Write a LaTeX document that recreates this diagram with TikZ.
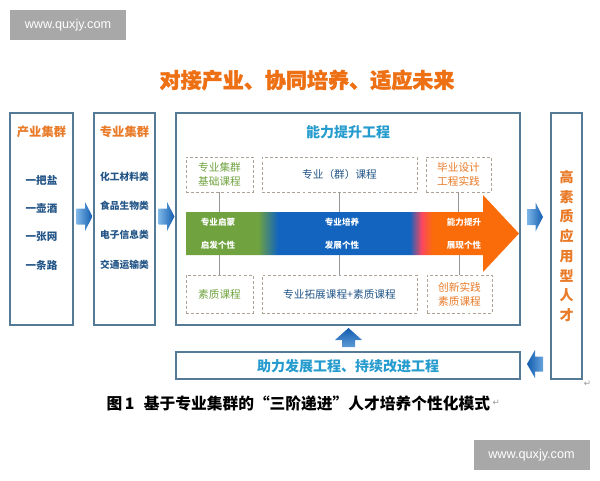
\documentclass[tikz,border=0pt]{standalone}
\usepackage{fontspec}
\setmainfont{Noto Sans CJK SC}
\newfontfamily\titlefont[BoldFeatures={FakeBold=1.6}]{Noto Sans CJK SC}
\newfontfamily\wmfont{Liberation Sans}
\newfontfamily\symfont{DejaVu Sans}
\usetikzlibrary{fit}

\definecolor{boxblue}{RGB}{84,122,150}
\definecolor{titleorange}{RGB}{238,112,20}
\definecolor{headorange}{RGB}{232,122,40}
\definecolor{navy}{RGB}{35,85,135}
\definecolor{cyanblue}{RGB}{38,155,205}
\definecolor{leafgreen}{RGB}{112,163,63}
\definecolor{bandblue}{RGB}{18,100,190}
\definecolor{bandorange}{RGB}{250,108,10}
\definecolor{arrdark}{RGB}{18,92,175}
\definecolor{arrlight}{RGB}{125,182,232}
\definecolor{dashgray}{RGB}{172,162,150}
\definecolor{linkgray}{RGB}{150,150,150}
\definecolor{wmgray}{RGB}{168,168,168}

\pgfdeclarehorizontalshading{bandshade}{100bp}{color(0bp)=(leafgreen); color(35.8bp)=(leafgreen); color(38.8bp)=(bandblue); color(58.6bp)=(bandblue); color(60.4bp)=(magenta!35!bandorange); color(62bp)=(bandorange); color(100bp)=(bandorange)}

\tikzset{every picture/.style={line width=0.75pt}}
\tikzset{
  frame/.style={draw=boxblue, line width=0.9pt, inner sep=0pt},
  dbox/.style={draw=dashgray, dash pattern={on 2.2pt off 1.6pt}, line width=0.6pt, inner sep=0pt},
  dtxt/.style={align=center, inner sep=0.75pt, font=\fontsize{8}{10.5}\selectfont},
  link/.style={draw=linkgray, line width=0.45pt},
  head/.style={text=headorange, font=\bfseries\fontsize{9.2}{10}\selectfont, inner sep=0.75pt},
  item/.style={text=navy, font=\bfseries\fontsize{7.9}{9}\selectfont, inner sep=0.75pt},
  major/.style={text=navy, font=\bfseries\fontsize{7.3}{9}\selectfont, inner sep=0.75pt},
  bandtxt/.style={text=white, font=\bfseries\fontsize{6.4}{7}\selectfont, inner sep=0.75pt},
  wm/.style={fill=wmgray, text=white, font=\wmfont\fontsize{9.5}{11}\selectfont, minimum width=87pt, minimum height=22.5pt, inner sep=0pt},
  ret/.style={text=linkgray, font=\symfont\fontsize{6.5}{7}\selectfont, inner sep=0.5pt},
  rarr/.pic={\shade[left color=arrlight, right color=arrdark] (-8,-8) -- (0.5,-8) -- (0.5,-14.5) -- (8,0) -- (0.5,14.5) -- (0.5,8) -- (-8,8) -- cycle;},
  larr/.pic={\shade[left color=arrdark, right color=arrlight!80!arrdark] (8,-7.5) -- (0,-7.5) -- (0,-14) -- (-8,0) -- (0,14) -- (0,7.5) -- (8,7.5) -- cycle;},
  uarr/.pic={\shade[top color=arrdark, bottom color=arrlight!70!arrdark] (-13.5,-2.5) -- (0,9.5) -- (13.5,-2.5) -- (6.5,-2.5) -- (6.5,-9.5) -- (-6.5,-9.5) -- (-6.5,-2.5) -- cycle;}
}

\begin{document}
\begin{tikzpicture}[x=0.75pt,y=0.75pt,yscale=-1,xscale=1]
\useasboundingbox (0,0) rectangle (600,480);

% Watermarks
\node[wm] (wm1) at (68,25) {www.quxjy.com};
\node[wm] (wm2) at (531.5,455) {www.quxjy.com};

% Title
\node[text=titleorange, font=\titlefont\bfseries\fontsize{15.8}{17}\selectfont, inner sep=0.75pt] (title) at (307,80) {对接产业、协同培养、适应未来};

%Shape: Rectangle  (industry cluster)
\node[frame, fit={(10,113) (73,325)}] (ind) {};
\node[head] (indh) at (41.5,132) {产业集群};
\node[item] (i1) at (41.5,180) {一把盐};
\node[item] (i2) at (41.5,208) {一壶酒};
\node[item] (i3) at (41.5,237) {一张网};
\node[item] (i4) at (41.5,265) {一条路};

%Shape: Rectangle  (major cluster)
\node[frame, fit={(94,113) (155,325)}] (maj) {};
\node[head] (majh) at (124.5,132) {专业集群};
\node[major] (m1) at (124.5,177) {化工材料类};
\node[major] (m2) at (124.5,206) {食品生物类};
\node[major] (m3) at (124.5,235) {电子信息类};
\node[major] (m4) at (124.5,265) {交通运输类};

% Block arrows
\pic at (84.5,216.5) {rarr};
\pic at (166.5,216.5) {rarr};
\pic at (535,217) {rarr};
\pic at (535,364) {larr};
\pic at (348.5,337.5) {uarr};

%Shape: Rectangle  (main frame)
\node[frame, fit={(176,113) (520,325)}] (main) {};
\node[text=cyanblue, font=\bfseries\fontsize{10.5}{12}\selectfont, inner sep=0.75pt] (mainh) at (348,132) {能力提升工程};

% Dashed boxes, upper row
\node[dbox, fit={(186,157) (253,192)}] (t1) {};
\node[dbox, fit={(262,157) (417,192)}] (t2) {};
\node[dbox, fit={(426,157) (491,192)}] (t3) {};
\node[dtxt, text=leafgreen] (t1t) at (t1.center) {专业集群\\基础课程};
\node[dtxt, text=navy] (t2t) at (t2.center) {专业（群）课程};
\node[dtxt, text=headorange] (t3t) at (t3.center) {毕业设计\\工程实践};

% Dashed boxes, lower row
\node[dbox, fit={(186,275) (253,313)}] (u1) {};
\node[dbox, fit={(262,275) (417,313)}] (u2) {};
\node[dbox, fit={(427,275) (492,313)}] (u3) {};
\node[dtxt, text=leafgreen] (u1t) at (u1.center) {素质课程};
\node[dtxt, text=navy] (u2t) at (u2.center) {专业拓展课程+素质课程};
\node[dtxt, text=headorange] (u3t) at (u3.center) {创新实践\\素质课程};

% Band arrow
\shade[shading=bandshade] (186,212) -- (483,212) -- (483,195) -- (519,233.5) -- (483,272) -- (483,255) -- (186,255) -- cycle;
\coordinate (bandtop) at (0,212);
\coordinate (bandbot) at (0,255);

% Band texts
\node[bandtxt] (s1) at (218,222) {专业启蒙};
\node[bandtxt] (g1) at (218,245) {启发个性};
\node[bandtxt] (s2) at (342,222) {专业培养};
\node[bandtxt] (g2) at (342,245) {发展个性};
\node[bandtxt] (s3) at (464,222) {能力提升};
\node[bandtxt] (g3) at (464,245) {展现个性};

% Links
\foreach \b in {1,2,3} {
  \draw[link] (t\b.south) -- (t\b.south |- bandtop);
  \draw[link] (u\b.north |- bandbot) -- (u\b.north);
}

%Shape: Rectangle  (talent)
\node[frame, fit={(551,113) (582,379)}] (tal) {};
\node[align=center, text=headorange, font=\bfseries\fontsize{10.5}{14.8}\selectfont, inner sep=0pt] (talt) at (566.5,246) {高\\素\\质\\应\\用\\型\\人\\才};
\node[ret, anchor=north west] (ret1) at (tal.south east) {↵};

%Shape: Rectangle  (support)
\node[frame, fit={(176,352) (520,379)}] (sup) {};
\node[text=cyanblue, font=\bfseries\fontsize{10.5}{12}\selectfont, inner sep=0.75pt] (supt) at (348,366) {助力发展工程、持续改进工程};

% Caption
\node[font=\bfseries\fontsize{11.8}{14}\selectfont, inner sep=0.75pt, anchor=west] (cap) at (105,403) {图\,1\hspace{0.6em}基于专业集群的“三阶递进”人才培养个性化模式};
\node[ret, anchor=west] (ret2) at (cap.east) {↵};
\end{tikzpicture}
\end{document}
